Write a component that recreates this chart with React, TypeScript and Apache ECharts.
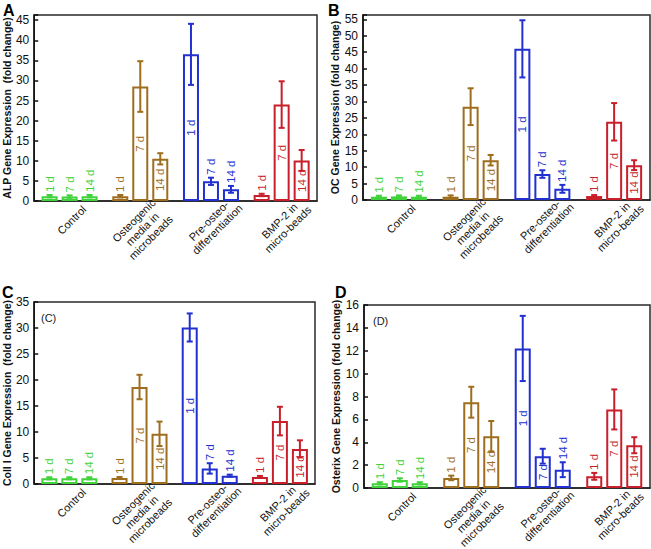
import React, { useEffect, useRef } from 'react';
import * as echarts from 'echarts';

// ---------- data ----------
const categories = ['Control', 'Osteogenic\nmedia in\nmicrobeads', 'Pre-osteo-\ndifferentiation', 'BMP-2 in\nmicro-beads'];
const dayLabels = ['1 d', '7 d', '14 d'];
const groupColors = ['#3fd23a', '#9e6d1e', '#2130cf', '#c91f2b'];

// A: ALP
const alp1d = [1.2, 1.2, 36.5, 1.5];
const alp1dErr = [0.3, 0.3, 7.6, 0.3];
const alp7d = [1.1, 28.5, 4.9, 24.0];
const alp7dErr = [0.3, 6.3, 0.9, 5.8];
const alp14d = [1.2, 10.5, 2.9, 10.1];
const alp14dErr = [0.3, 1.4, 0.85, 2.6];

// B: OC
const oc1d = [1.0, 1.0, 46.0, 1.2];
const oc1dErr = [0.3, 0.4, 8.7, 0.3];
const oc7d = [1.1, 28.4, 7.9, 23.8];
const oc7dErr = [0.3, 5.6, 1.15, 5.7];
const oc14d = [1.0, 12.1, 3.4, 10.6];
const oc14dErr = [0.3, 1.6, 1.2, 1.5];

// C: Coll I
const col1d = [1.1, 1.15, 30.1, 1.35];
const col1dErr = [0.2, 0.2, 2.7, 0.2];
const col7d = [1.1, 18.65, 3.0, 12.1];
const col7dErr = [0.2, 2.35, 1.0, 2.75];
const col14d = [1.1, 9.65, 1.6, 6.75];
const col14dErr = [0.2, 2.35, 0.2, 1.65];

// D: Osterix
const osx1d = [0.41, 0.88, 12.2, 1.02];
const osx1dErr = [0.1, 0.2, 2.85, 0.3];
const osx7d = [0.7, 7.5, 2.78, 6.87];
const osx7dErr = [0.15, 1.35, 0.65, 1.75];
const osx14d = [0.41, 4.53, 1.6, 3.74];
const osx14dErr = [0.1, 1.33, 0.65, 0.7];

const FONT = '"Liberation Sans", Arial, Helvetica, sans-serif';

const panels = [
  { letter: 'A', yName: 'ALP Gene Expression  (fold change)', max: 46.3, interval: 5,
    means: [alp1d, alp7d, alp14d], errs: [alp1dErr, alp7dErr, alp14dErr], note: '',
    grid: { left: 33, top: 15, width: 284, height: 186 }, letterPos: [3, 2], nameGap: 19 },
  { letter: 'B', yName: 'OC Gene Expression (fold change)', max: 56.3, interval: 5,
    means: [oc1d, oc7d, oc14d], errs: [oc1dErr, oc7dErr, oc14dErr], note: '',
    grid: { left: 363, top: 15, width: 287, height: 185 }, letterPos: [328, 2], nameGap: 19 },
  { letter: 'C', yName: 'Coll I Gene Expression  (fold change)', max: 35, interval: 5,
    means: [col1d, col7d, col14d], errs: [col1dErr, col7dErr, col14dErr], note: '(C)',
    grid: { left: 32, top: 302, width: 283, height: 182 }, letterPos: [2, 284], nameGap: 19 },
  { letter: 'D', yName: 'Osterix Gene Expression (fold change)', max: 16, interval: 2,
    means: [osx1d, osx7d, osx14d], errs: [osx1dErr, osx7dErr, osx14dErr], note: '(D)',
    grid: { left: 364, top: 305, width: 286, height: 183 }, letterPos: [335, 284], nameGap: 19 },
];

const BAR_W = 16;
const BAR_STEP = 20;
const labelDy = [19, 24, 28];

function buildOption() {
  const grids: any[] = [];
  const xAxes: any[] = [];
  const yAxes: any[] = [];
  const series: any[] = [];
  const graphic: any[] = [];

  panels.forEach((p, pi) => {
    grids.push({ ...p.grid, show: true, borderColor: '#2a2a2a', borderWidth: 1.5, backgroundColor: 'transparent' });
    xAxes.push({
      gridIndex: pi, type: 'category', data: categories,
      axisLine: { show: true, lineStyle: { color: '#222', width: 1.5 } },
      axisTick: { show: false }, axisLabel: { show: false }, splitLine: { show: false },
    });
    yAxes.push({
      gridIndex: pi, type: 'value', min: 0, max: p.max, interval: p.interval,
      name: p.yName, nameLocation: 'middle', nameGap: p.nameGap,
      nameTextStyle: { fontFamily: FONT, fontSize: 10.5, fontWeight: 'bold', color: '#111' },
      axisLine: { show: true, lineStyle: { color: '#111', width: 1.5 } },
      axisTick: { show: true, inside: true, length: 4, lineStyle: { color: '#111', width: 1.5 } },
      axisLabel: {
        fontFamily: FONT, fontSize: 12, color: '#111', margin: 5,
        formatter: (v: number) => (Math.abs(v / p.interval - Math.round(v / p.interval)) < 1e-6 ? String(v) : ''),
      },
      splitLine: { show: false },
    });

    // bars
    p.means.forEach((arr, di) => {
      series.push({
        type: 'bar', name: dayLabels[di], xAxisIndex: pi, yAxisIndex: pi,
        barWidth: BAR_W, barGap: '25%', silent: true,
        data: arr.map((v, ci) => ({
          value: v,
          itemStyle: { color: 'rgba(255,255,255,0)', borderColor: groupColors[ci], borderWidth: 2 },
        })),
      });
    });

    // error bars + rotated day labels
    const errData: any[] = [];
    p.means.forEach((arr, di) => arr.forEach((v, ci) => errData.push([ci, v, p.errs[di][ci], di])));
    const maxV = p.max;
    series.push({
      type: 'custom', xAxisIndex: pi, yAxisIndex: pi, clip: false, silent: true,
      encode: { x: 0, y: 1 },
      data: errData,
      renderItem: (params: any, api: any) => {
        const c = api.value(0), m = api.value(1), e = api.value(2), d = api.value(3);
        const base = api.coord([c, m]);
        const x = base[0] + (d - 1) * BAR_STEP;
        const top = api.coord([c, m + e])[1];
        const bot = api.coord([c, Math.max(0, m - e)])[1];
        const color = groupColors[c];
        const ls = { stroke: color, lineWidth: 2 };
        const children: any[] = [
          { type: 'line', shape: { x1: x, y1: top, x2: x, y2: bot }, style: ls },
          { type: 'line', shape: { x1: x - 3, y1: top, x2: x + 3, y2: top }, style: ls },
          { type: 'line', shape: { x1: x - 3, y1: bot, x2: x + 3, y2: bot }, style: ls },
        ];
        const inside = m / maxV >= 0.15;
        children.push({
          type: 'text', x, y: inside ? api.coord([c, m / 2])[1] : top - 3, rotation: Math.PI / 2,
          style: {
            text: dayLabels[d], fill: color, fontSize: 11.5, fontFamily: FONT,
            align: inside ? 'center' : 'left', verticalAlign: 'middle',
          },
        });
        return { type: 'group', children };
      },
    });

    // category labels (rotated 45deg, centred under each group)
    series.push({
      type: 'custom', xAxisIndex: pi, yAxisIndex: pi, clip: false, silent: true,
      encode: { x: 0, y: 1 },
      data: categories.map((_, ci) => [ci, 0]),
      renderItem: (params: any, api: any) => {
        const ci = api.value(0);
        const pt = api.coord([ci, 0]);
        const lines = categories[ci].split('\n').length;
        return {
          type: 'text', x: pt[0] + 2, y: pt[1] + labelDy[lines - 1], rotation: Math.PI / 4,
          style: { text: categories[ci], fill: '#111', fontSize: 11, lineHeight: 12, fontFamily: FONT, align: 'center', verticalAlign: 'middle' },
        };
      },
    });

    graphic.push({
      type: 'text', left: p.letterPos[0], top: p.letterPos[1],
      style: { text: p.letter, fill: '#000', font: `bold 16px ${FONT}` },
    });
    if (p.note) {
      graphic.push({
        type: 'text', left: p.grid.left + 9, top: p.grid.top + 10,
        style: { text: p.note, fill: '#222', font: `11px ${FONT}` },
      });
    }
  });

  return {
    animation: false,
    backgroundColor: '#fff',
    textStyle: { fontFamily: FONT },
    grid: grids, xAxis: xAxes, yAxis: yAxes, series, graphic,
  };
}

export default function App() {
  const ref = useRef<HTMLDivElement>(null);
  useEffect(() => {
    if (!ref.current) return;
    const chart = echarts.init(ref.current, undefined, { renderer: 'svg' });
    chart.setOption(buildOption() as any);
    return () => chart.dispose();
  }, []);
  return <div ref={ref} style={{ position: 'fixed', left: 0, top: 0, width: 651, height: 549, background: '#fff' }} />;
}
